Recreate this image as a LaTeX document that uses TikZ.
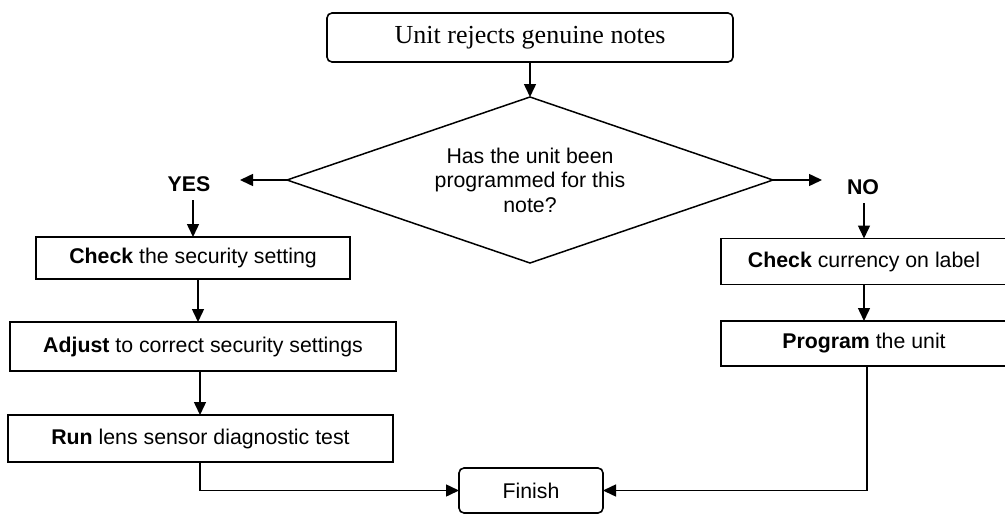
\documentclass[tikz,border=0pt]{standalone}
\usepackage{fontspec}
\setmainfont{Liberation Sans}
\newfontfamily\serifx{Liberation Serif}
\usetikzlibrary{shapes.geometric,arrows.meta}
\begin{document}
\begin{tikzpicture}[x=1pt,y=-1pt,
  every node/.style={inner sep=0pt, outer sep=0pt},
  txt/.style={font=\fontsize{21.3}{25}\selectfont},
  box/.style={draw, line width=1.6pt, txt, align=center},
  rbox/.style={box, rounded corners=5pt},
  conn/.style={line width=1.5pt, -{Triangle[length=13pt,width=12pt]}},
  plain/.style={line width=1.5pt}]
\useasboundingbox (0,0) rectangle (1005,514);
\clip (0,0) rectangle (1005,514);

\node[rbox, minimum width=406pt, minimum height=49pt, font=\serifx\fontsize{26}{30}\selectfont] (top) at (530,37.5) {Unit rejects genuine notes};
\node[draw, diamond, line width=1.5pt, aspect=2.93, minimum width=486pt, minimum height=166pt, txt, font=\fontsize{21.3}{24.5}\selectfont, align=center] (dia) at (530,180) {Has the unit been\\programmed for this\\note?};

\node[txt, font=\bfseries\fontsize{21.3}{25}\selectfont] (yes) at (189,184) {YES};
\node[txt, font=\bfseries\fontsize{21.3}{25}\selectfont] (no) at (863,187) {NO};
\coordinate (yestip) at (240,180);
\coordinate (notip) at (822,180);
\coordinate (yesbot) at (193,200);
\coordinate (nobot) at (864,203);

\node[box, minimum width=314pt, minimum height=42pt] (b1) at (193,258) {\textbf{Check} the security setting};
\node[box, minimum width=386pt, minimum height=49pt] (b2) at (203,346.5) {\textbf{Adjust} to correct security settings};
\node[box, minimum width=385pt, minimum height=47pt] (b3) at (200.5,438.5) {\textbf{Run} lens sensor diagnostic test};
\node[box, minimum width=286pt, minimum height=46pt] (b4) at (864,261.5) {\textbf{Check} currency on label};
\node[box, minimum width=286pt, minimum height=45pt] (b5) at (864,343.5) {\textbf{Program} the unit};
\node[rbox, minimum width=144pt, minimum height=45pt] (fin) at (531,490.5) {Finish};

\draw[conn] (top.south -| dia.north) -- (dia.north);
\draw[conn] (dia.west) -- (yestip);
\draw[conn] (dia.east) -- (notip);
\draw[conn] (yesbot) -- (b1.north);
\draw[conn] (nobot) -- (b4.north);
\draw[conn] ([xshift=5pt]b1.south) -- ([xshift=-5pt]b2.north);
\draw[conn] ([xshift=-3pt]b2.south) -- ([xshift=-0.5pt]b3.north);
\draw[conn] (b4.south) -- (b5.north);
\draw[conn] ([xshift=-0.5pt]b3.south) |- (fin.west);
\draw[conn] ([xshift=3pt]b5.south) |- (fin.east);
\end{tikzpicture}
\end{document}
